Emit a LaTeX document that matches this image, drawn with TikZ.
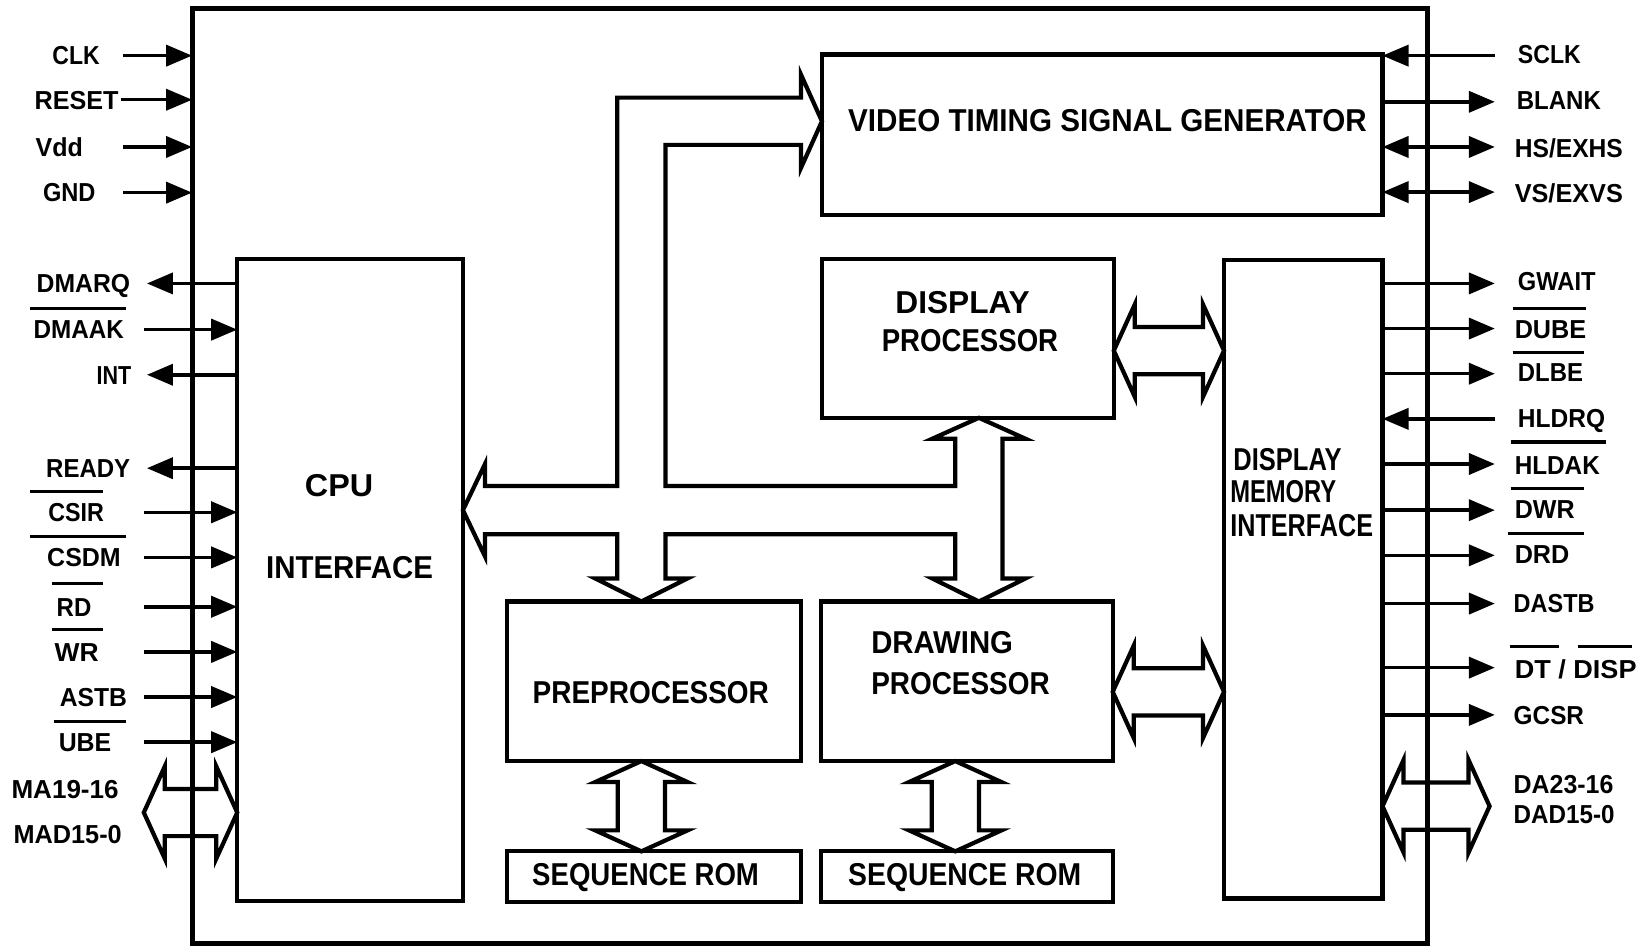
\documentclass[tikz,border=0pt]{standalone}
\usepackage{fontspec}
\usepackage{graphicx}
\setmainfont{Liberation Sans}
\usetikzlibrary{arrows.meta,calc}
\newdimen\pxu
\pxu=0.010497cm
\newcommand\fw[2]{\resizebox{#1\pxu}{\height}{#2}}
\newcommand\hbus[2]{%
  \draw[bus] (#1) -- ($(#1)+(20,-44)$) -- ($(#1)+(20,-22.5)$) -- ($(#2)+(-20,-22.5)$) -- ($(#2)+(-20,-44)$) -- (#2)
   -- ($(#2)+(-20,44)$) -- ($(#2)+(-20,22.5)$) -- ($(#1)+(20,22.5)$) -- ($(#1)+(20,44)$) -- cycle;}
\newcommand\vbus[2]{%
  \draw[bus] (#1) -- ($(#1)+(-44,20)$) -- ($(#1)+(-22.5,20)$) -- ($(#2)+(-22.5,-20)$) -- ($(#2)+(-44,-20)$) -- (#2)
   -- ($(#2)+(44,-20)$) -- ($(#2)+(22.5,-20)$) -- ($(#1)+(22.5,20)$) -- ($(#1)+(44,20)$) -- cycle;}
\tikzset{
  box/.style={draw, line width=1.2pt, inner sep=0pt, outer sep=0pt},
  sig/.style={line width=1pt, -{Triangle[length=7.4pt,width=6pt]}},
  sigbi/.style={line width=1pt, {Triangle[length=7.4pt,width=6pt]}-{Triangle[length=7.4pt,width=6pt]}},
  pin/.style={font=\bfseries\fontsize{7.4}{8}\selectfont, inner sep=0pt, outer sep=0pt, text height=5.3pt, text depth=0pt},
  blk/.style={font=\bfseries\fontsize{9}{10}\selectfont, inner sep=0pt, outer sep=0pt, text height=6.45pt, text depth=0pt},
  ovline/.style={line width=0.9pt},
  bus/.style={line width=1.2pt, line join=miter},
}
\begin{document}
\begin{tikzpicture}[x=0.010497cm, y=-0.010497cm]
\fill[white] (0,0) rectangle (1568,904);
\useasboundingbox (0,0) rectangle (1568,904);

% boxes
\node[box, line width=1.4pt, minimum width=1177\pxu, minimum height=891\pxu] (chip) at (771.5,453.5) {};
\node[box, minimum width=215\pxu, minimum height=611\pxu] (cpu) at (333.5,552.5) {};
\node[box, minimum width=534\pxu, minimum height=153\pxu] (vtsg) at (1050,128.5) {};
\node[box, minimum width=278\pxu, minimum height=151\pxu] (dp) at (922,322.5) {};
\node[box, minimum width=151\pxu, minimum height=608\pxu] (dmi) at (1241.5,552) {};
\node[box, minimum width=280\pxu, minimum height=152\pxu] (pre) at (623,649) {};
\node[box, minimum width=278\pxu, minimum height=152\pxu] (drw) at (921,649) {};
\node[box, minimum width=280\pxu, minimum height=48\pxu] (rom1) at (623,835) {};
\node[box, minimum width=278\pxu, minimum height=48\pxu] (rom2) at (921,835) {};

% block labels
\node[blk] (tvtsg) at (1055,114) {\fw{494}{VIDEO TIMING SIGNAL GENERATOR}};
\node[blk] (tdp1) at (917,288) {\fw{128}{DISPLAY}};
\node[blk] (tdp2) at (924,324) {\fw{168}{PROCESSOR}};
\node[blk] (tcpu1) at (323,462) {\fw{65}{CPU}};
\node[blk] (tcpu2) at (333,540) {\fw{159}{INTERFACE}};
\node[blk] (tpre) at (620,659) {\fw{225}{PREPROCESSOR}};
\node[blk, anchor=west] (tdrw1) at (830,612) {\fw{135}{DRAWING}};
\node[blk, anchor=west] (tdrw2) at (830,651) {\fw{170}{PROCESSOR}};
\node[blk] (trom1) at (615,833) {\fw{216}{SEQUENCE ROM}};
\node[blk] (trom2) at (919,833) {\fw{222}{SEQUENCE ROM}};
\node[blk, anchor=west] (tdmi1) at (1175,437) {\fw{103}{DISPLAY}};
\node[blk, anchor=west] (tdmi2) at (1172,468) {\fw{101}{MEMORY}};
\node[blk, anchor=west] (tdmi3) at (1172,500) {\fw{136}{INTERFACE}};

% main internal bus
\draw[bus] (cpu.east |- 0,486) -- (462,442) -- (462,463) -- (588,463) -- (588,93) -- (763,93) -- (763,71)
  -- (vtsg.west |- 0,115.5) -- (763,160) -- (763,138) -- (634,138) -- (634,463) -- (910,463) -- (910,418)
  -- (888,418) -- (dp.south -| 932.5,0) -- (977,418) -- (955,418) -- (955,551) -- (977,551)
  -- (drw.north -| 932.5,0) -- (888,551) -- (910,551) -- (910,509) -- (634,509) -- (634,551) -- (655,551)
  -- (pre.north -| 611,0) -- (567,551) -- (588,551) -- (588,509) -- (462,509) -- (462,530) -- cycle;

% small buses
\coordinate (b1l) at (dp.east |- 0,334);  \coordinate (b1r) at (dmi.west |- 0,334);  \hbus{b1l}{b1r}
\coordinate (b2l) at (drw.east |- 0,659); \coordinate (b2r) at (dmi.west |- 0,659); \hbus{b2l}{b2r}
\coordinate (b3t) at (pre.south -| 611,0); \coordinate (b3b) at (rom1.north -| 611,0); \vbus{b3t}{b3b}
\coordinate (b4t) at (drw.south -| 910,0); \coordinate (b4b) at (rom2.north -| 910,0); \vbus{b4t}{b4b}
\coordinate (mab-e) at (137,774); \coordinate (mab-c) at (cpu.west |- mab-e); \hbus{mab-e}{mab-c}
\coordinate (dab-e) at (1419,768); \coordinate (dab-c) at (dmi.east |- dab-e); \hbus{dab-c}{dab-e}

% left pins to chip edge
\foreach \n/\t/\cx/\w/\y/\sx in {clk/CLK/72.5/45/53/117, reset/RESET/73/80/95/115, vdd/Vdd/56.5/45/140/117, gnd/GND/66/50/183.5/117}{
  \node[pin] (\n) at (\cx,\y) {\fw{\w}{\t}};
  \coordinate (\n-e) at (\sx,\y);
  \draw[sig] (\n-e) -- (chip.west |- \n-e);
}
% CPU inputs
\foreach \n/\t/\cx/\w/\y in {dmaak/DMAAK/75/86/314, csir/CSIR/72.5/53/488, csdm/CSDM/80/70/531, rd/RD/70.5/33/578, wr/WR/73/42/621, astb/ASTB/89/64/664, ube/UBE/81/50/707}{
  \node[pin] (\n) at (\cx,\y) {\fw{\w}{\t}};
  \coordinate (\n-e) at (137,\y);
  \draw[sig] (\n-e) -- (cpu.west |- \n-e);
}
% CPU outputs
\foreach \n/\t/\cx/\w/\y in {dmarq/DMARQ/79.5/89/270, int/INT/108.5/33/357, ready/READY/84/80/446}{
  \node[pin] (\n) at (\cx,\y) {\fw{\w}{\t}};
  \coordinate (\n-e) at (140,\y);
  \draw[sig] (cpu.west |- \n-e) -- (\n-e);
}
\node[pin] (ma) at (62,752) {\fw{102}{MA19-16}};
\node[pin] (mad) at (64.5,795) {\fw{103}{MAD15-0}};

% VTSG pins
\node[pin] (sclk) at (1476,52) {\fw{60}{SCLK}};
\coordinate (sclk-e) at (1424,53);
\draw[sig] (sclk-e) -- (vtsg.east |- sclk-e);
\node[pin] (blank) at (1485,95) {\fw{80}{BLANK}};
\coordinate (blank-e) at (1424,97);
\draw[sig] (vtsg.east |- blank-e) -- (blank-e);
\node[pin] (hs) at (1494.5,141) {\fw{103}{HS/EXHS}};
\coordinate (hs-e) at (1424,140);
\draw[sigbi] (vtsg.east |- hs-e) -- (hs-e);
\node[pin] (vs) at (1494.5,184) {\fw{103}{VS/EXVS}};
\coordinate (vs-e) at (1424,183);
\draw[sigbi] (vtsg.east |- vs-e) -- (vs-e);

% DMI outputs
\foreach \n/\t/\cx/\w/\y/\ay in {gwait/GWAIT/1483/74/268/270, dube/DUBE/1477/68/314/313, dlbe/DLBE/1477/62/355/356, hldak/HLDAK/1483.5/81/443/442, dwr/DWR/1471.5/57/485/486, drd/DRD/1469/52/528/529, dastb/DASTB/1480.5/77/575/575, gcsr/GCSR/1475.5/67/681/681}{
  \node[pin] (\n) at (\cx,\y) {\fw{\w}{\t}};
  \coordinate (\n-e) at (1424,\ay);
  \draw[sig] (dmi.east |- \n-e) -- (\n-e);
}
\node[pin] (dtdisp) at (1501,637) {\fw{116}{DT / DISP}};
\coordinate (dtdisp-e) at (1424,636);
\draw[sig] (dmi.east |- dtdisp-e) -- (dtdisp-e);
\node[pin] (hldrq) at (1487.5,398) {\fw{83}{HLDRQ}};
\coordinate (hldrq-e) at (1424,399);
\draw[sig] (hldrq-e) -- (dmi.east |- hldrq-e);
\node[pin] (da) at (1489.5,747) {\fw{95}{DA23-16}};
\node[pin] (dad) at (1490,776) {\fw{96}{DAD15-0}};

% overlines (active-low signals)
\draw[ovline] (29,294) -- (120,294);
\draw[ovline] (29,468) -- (98,468);
\draw[ovline] (29,511) -- (120,511);
\draw[ovline] (50,556) -- (98,556);
\draw[ovline] (50,600) -- (98,600);
\draw[ovline] (51,687) -- (120,687);
\draw[ovline] (1441,294) -- (1511,294);
\draw[ovline] (1441,336) -- (1509,336);
\draw[ovline] (1439,421) -- (1530,421);
\draw[ovline] (1439,465) -- (1509,465);
\draw[ovline] (1437,508) -- (1509,508);
\draw[ovline] (1438,616) -- (1485,616);
\draw[ovline] (1503,616) -- (1555,616);
\end{tikzpicture}
\end{document}
